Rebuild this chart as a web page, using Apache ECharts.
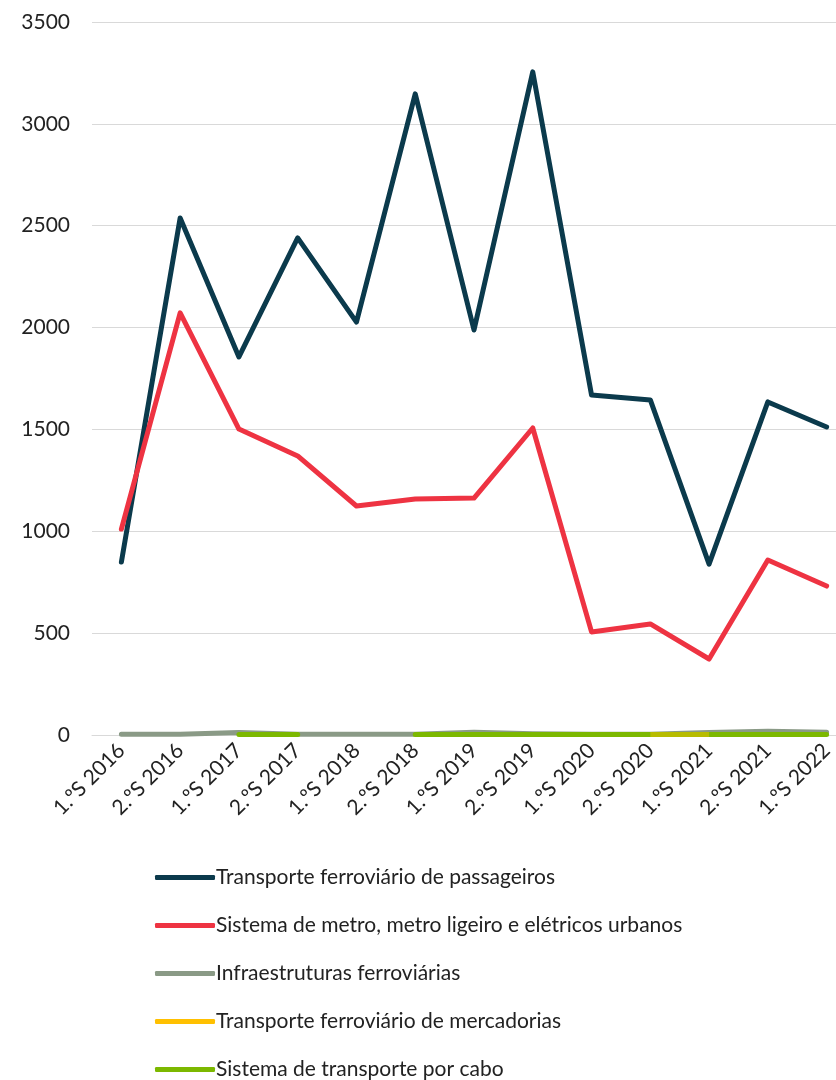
<!DOCTYPE html>
<html>
<head>
<meta charset="utf-8">
<script src="https://cdn.jsdelivr.net/npm/echarts@6/dist/echarts.min.js"></script>
<style>
  html, body { margin: 0; padding: 0; background: #fff; overflow: hidden; }
  #chart { width: 856px; height: 1080px; }
</style>
</head>
<body>
<div id="chart"></div>
<script>
const categories = [
  '1.ºS 2016', '2.ºS 2016', '1.ºS 2017', '2.ºS 2017', '1.ºS 2018', '2.ºS 2018',
  '1.ºS 2019', '2.ºS 2019', '1.ºS 2020', '2.ºS 2020', '1.ºS 2021', '2.ºS 2021', '1.ºS 2022',
]

const passageiros = [849, 2538, 1856, 2440, 2027, 3147, 1988, 3255, 1669, 1645, 839, 1635, 1512]
const metro = [1011, 2072, 1502, 1370, 1124, 1159, 1163, 1507, 506, 545, 373, 859, 731]
const infraestruturas = [4, 4, 12, 4, 4, 4, 14, 6, 4, 4, 12, 18, 14]
const mercadorias = [null, null, null, null, null, null, null, null, null, 2, 2, null, null]
const cabo = [null, null, 3, 3, null, 3, 3, 3, 3, 3, 3, 3, 3]

const yTicks = [0, 500, 1000, 1500, 2000, 2500, 3000, 3500]

const names = [
  'Transporte ferroviário de passageiros',
  'Sistema de metro, metro ligeiro e elétricos urbanos',
  'Infraestruturas ferroviárias',
  'Transporte ferroviário de mercadorias',
  'Sistema de transporte por cabo',
]

const colors = {
  [names[0]]: '#0B3A4C',
  [names[1]]: '#EE3342',
  [names[2]]: '#8A9A86',
  [names[3]]: '#FFC000',
  [names[4]]: '#7CB800',
}

const font = "Lato, 'Noto Sans', sans-serif"

function line(name, data, extra) {
  return Object.assign({
    name,
    type: 'line',
    data,
    color: colors[name],
    symbol: 'none',
    showSymbol: false,
    lineStyle: { width: 5, cap: 'round', join: 'round' },
    emphasis: { disabled: true },
  }, extra || {})
}

const chart = echarts.init(document.getElementById('chart'))

chart.setOption({
  animation: false,
  grid: { left: 92, right: 0, top: 22, bottom: 345, containLabel: false },
  legend: {
    orient: 'vertical',
    left: 155,
    top: 867,
    height: 260,
    padding: 0,
    itemWidth: 60,
    itemHeight: 5,
    itemGap: 27,
    icon: 'roundRect',
    textStyle: { fontFamily: font, fontSize: 21, color: '#222', padding: [0, 0, 0, -4] },
    data: names.map((n) => ({ name: n, itemStyle: { color: colors[n], opacity: 1 } })),
  },
  xAxis: {
    type: 'category',
    data: categories,
    boundaryGap: true,
    axisLine: { show: true, lineStyle: { color: '#d9d9d9', width: 1 } },
    axisTick: { show: false },
    axisLabel: {
      rotate: 45,
      interval: 0,
      margin: 12,
      fontFamily: font,
      fontSize: 21,
      color: '#222',
    },
  },
  yAxis: {
    type: 'value',
    min: yTicks[0],
    max: yTicks[yTicks.length - 1],
    interval: 500,
    axisLine: { show: false },
    axisTick: { show: false },
    splitLine: { lineStyle: { color: '#d9d9d9', width: 1 } },
    axisLabel: {
      margin: 22,
      fontFamily: font,
      fontSize: 21,
      color: '#222',
      formatter: (v) => String(v),
    },
  },
  series: [
    line(names[0], passageiros),
    line(names[1], metro),
    line(names[2], infraestruturas),
    line(names[4], cabo),
    line(names[3], mercadorias, { lineStyle: { width: 5, opacity: 0.45 } }),
  ],
})
</script>
</body>
</html>
